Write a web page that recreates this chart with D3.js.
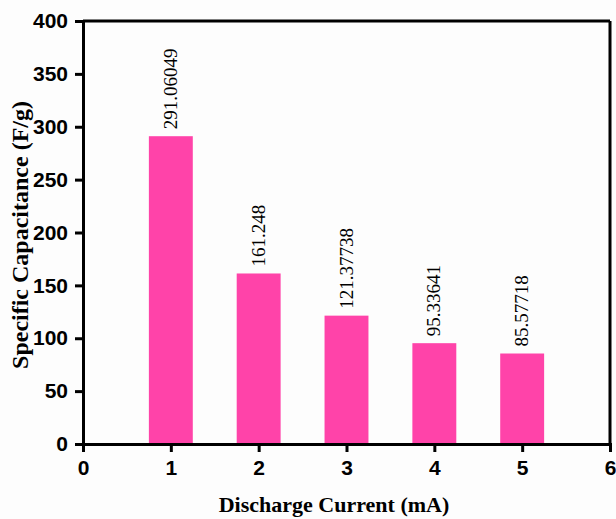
<!DOCTYPE html>
<html>
<head>
<script src="https://d3js.org/d3.v7.min.js"></script>
<style>
  body { margin: 0; background: #fdfdfd; }
  svg { font-family: "Liberation Serif", "Times New Roman", serif; }
  .axis path, .axis line { stroke: #000; stroke-width: 3px; }
  .axis text { font-size: 21px; font-weight: bold; fill: #000; }
  .label { font-size: 19px; fill: #000; }
  .title { font-weight: bold; fill: #000; }
</style>
</head>
<body>
<svg id="chart" width="616" height="519"></svg>
<script>
// data
const currents = [1, 2, 3, 4, 5];
const capacitance = [291.06049, 161.248, 121.37738, 95.33641, 85.57718];
const barLabels = ["291.06049", "161.248", "121.37738", "95.33641", "85.57718"];
const xTicks = [0, 1, 2, 3, 4, 5, 6];
const yTicks = [0, 50, 100, 150, 200, 250, 300, 350, 400];

const svg = d3.select("#chart");
const mLeft = 83, mRight = 610, mTop = 21, mBottom = 444;

const x = d3.scaleLinear().domain([0, 6]).range([mLeft, mRight]);
const y = d3.scaleLinear().domain([0, 400]).range([mBottom, mTop]);
const barW = x(0.5) - x(0);

// bars
svg.selectAll("rect.bar")
  .data(currents)
  .join("rect")
  .attr("class", "bar")
  .attr("x", d => x(d) - barW / 2)
  .attr("y", (d, i) => y(capacitance[i]))
  .attr("width", barW)
  .attr("height", (d, i) => y(0) - y(capacitance[i]))
  .attr("fill", "#ff43a9");

// value labels, rotated
svg.selectAll("text.label")
  .data(currents)
  .join("text")
  .attr("class", "label")
  .attr("transform", (d, i) => `translate(${x(d) + 6},${y(capacitance[i]) - 7}) rotate(-90)`)
  .text((d, i) => barLabels[i]);

// frame top and right
svg.append("line")
  .attr("x1", mLeft).attr("x2", mRight).attr("y1", mTop).attr("y2", mTop)
  .attr("stroke", "#000").attr("stroke-width", 3);
svg.append("line")
  .attr("x1", mRight).attr("x2", mRight).attr("y1", mTop).attr("y2", mBottom)
  .attr("stroke", "#000").attr("stroke-width", 3);

// axes
svg.append("g")
  .attr("class", "axis")
  .attr("transform", `translate(0,${mBottom})`)
  .call(d3.axisBottom(x).tickValues(xTicks).tickFormat(d3.format("d")).tickSizeOuter(0).tickSize(8).tickPadding(8));

svg.append("g")
  .attr("class", "axis")
  .attr("transform", `translate(${mLeft},0)`)
  .call(d3.axisLeft(y).tickValues(yTicks).tickSizeOuter(0).tickSize(8).tickPadding(7));

// titles
svg.append("text")
  .attr("class", "title")
  .attr("x", 334)
  .attr("y", 512)
  .attr("text-anchor", "middle")
  .style("font-size", "22px")
  .text("Discharge Current (mA)");

svg.append("text")
  .attr("class", "title")
  .attr("transform", "translate(28,235) rotate(-90)")
  .attr("text-anchor", "middle")
  .style("font-size", "24px")
  .text("Specific Capacitance (F/g)");
</script>
</body>
</html>
